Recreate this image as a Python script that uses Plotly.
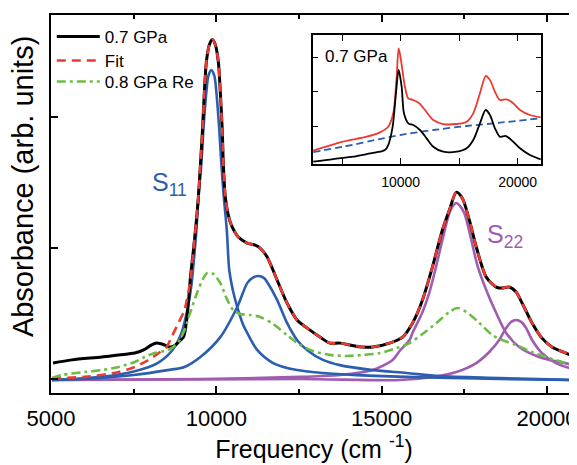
import plotly.graph_objects as go

# ---------------- main panel data (frequency in cm^-1, absorbance in arb. units) -------------
black_x = [5060, 5633, 6536, 7048, 7530, 7801, 8042, 8193, 8434, 8584, 8765, 8855, 9006, 9096, 9157, 9217,
           9307, 9398, 9458, 9518, 9578, 9638, 9699, 9789, 9879, 9970, 10060, 10120, 10181, 10211, 10271,
           10361, 10452, 10663, 10934, 11175, 11325, 11536, 11837, 12138, 12440, 12741, 13132, 13434, 13735,
           14036, 14428, 14729, 15241, 15632, 15934, 16235, 16536, 16837, 17048, 17259, 17440, 17650, 17861,
           18162, 18464, 18644, 18855, 19066, 19247, 19548, 19849, 20150, 20572, 20873]
black_y = [6.1, 7.3, 8.4, 9.2, 9.9, 11.1, 13.0, 13.7, 13.0, 12.2, 13.0, 14.1, 16.0, 21.8, 29.4, 38.9,
           49.2, 60.7, 69.5, 81.7, 94.3, 109.6, 121.1, 127.6, 129.6, 127.6, 121.1, 109.6, 94.3, 82.4, 69.5,
           62.6, 58.8, 54.2, 51.9, 51.1, 50.0, 46.6, 37.8, 29.0, 22.5, 19.5, 16.0, 13.7, 13.7,
           13.0, 12.2, 12.2, 13.7, 16.0, 21.4, 30.2, 42.8, 56.9, 64.5, 71.3, 69.0, 60.7, 50.4,
           38.9, 35.1, 34.7, 35.1, 33.2, 29.0, 21.4, 15.6, 12.2, 9.9, 8.4]

fit_x = [5030, 6024, 7048, 7530, 7952, 8253, 8494, 8645, 8855, 9036, 9126, 9217] + black_x[16:]
fit_y = [0.4, 0.8, 2.7, 4.6, 7.3, 9.9, 12.2, 16.0, 21.4, 26.3, 31.3, 37.8] + black_y[16:]

re_x = [5030, 5331, 6024, 6536, 7048, 7530, 7831, 8133, 8434, 8645, 8855, 9036, 9217, 9428, 9608, 9729,
        9910, 10120, 10331, 10512, 10723, 11024, 11325, 11717, 12138, 12530, 12922, 13434, 13946, 14428,
        14940, 15452, 15843, 16235, 16657, 17048, 17289, 17560, 17952, 18343, 18644, 19066, 19548, 20060,
        20572, 20873]
re_y = [0.4, 1.5, 2.7, 3.4, 4.6, 6.5, 8.4, 9.9, 10.7, 11.8, 14.1, 18.7, 25.6, 33.2, 38.5, 40.5,
        40.1, 36.6, 30.2, 26.3, 24.8, 24.4, 23.7, 21.0, 16.8, 13.0, 10.7, 9.2, 8.8, 9.2,
        9.9, 11.8, 13.7, 17.2, 21.4, 25.6, 27.1, 25.6, 21.4, 16.8, 14.9, 13.0, 10.3, 8.0,
        6.1, 4.6]

s11a_x = [5030, 6506, 7560, 8223, 8675, 8946, 9127, 9247, 9307, 9398, 9458, 9548, 9608, 9699, 9759, 9849,
          9940, 10000, 10090, 10150, 10226, 10316, 10391, 10512, 10632, 10813, 10934, 11235, 11717, 12440,
          13223, 14247, 15752, 17048, 18554, 20873]
s11a_y = [-0.4, 0.8, 3.1, 6.1, 11.1, 17.6, 26.7, 35.9, 43.5, 56.9, 69.5, 82.4, 95.0, 109.6, 115.7, 117.9,
          115.7, 109.6, 95.0, 82.4, 69.5, 56.9, 41.6, 33.2, 27.5, 20.6, 17.6, 11.1, 6.1, 3.4,
          2.3, 1.5, 0.8, 0.4, 0.0, -0.4]

s11b_x = [5030, 6506, 7500, 8524, 9036, 9518, 10120, 10632, 10934, 11084, 11265, 11446, 11536, 11837,
          12138, 12440, 12741, 13223, 13735, 14729, 15752, 16747, 18554, 20873]
s11b_y = [-0.4, 0.4, 1.5, 3.4, 4.6, 8.4, 16.0, 27.5, 36.6, 38.5, 39.3, 38.5, 37.0, 30.2,
          21.4, 14.9, 11.1, 7.3, 5.3, 3.4, 2.3, 1.1, 0.4, -0.4]

s22a_x = [5030, 9518, 12530, 13735, 14729, 15331, 15542, 15843, 15933, 16235, 16446, 16657, 16837, 17048,
          17168, 17259, 17349, 17500, 17711, 17892, 18162, 18464, 18765, 19156, 19759, 20361, 20873]
s22a_y = [-0.4, 0.0, 0.8, 1.5, 3.4, 7.3, 10.7, 14.9, 17.6, 25.6, 33.2, 43.5, 53.1, 63.3,
          66.4, 67.2, 66.4, 63.3, 53.1, 43.5, 34.0, 25.2, 17.6, 12.2, 8.4, 6.5, 5.3]

s22b_x = [5030, 12530, 15542, 16536, 17259, 17861, 18253, 18554, 18765, 18915, 19066, 19217, 19367,
          19548, 19849, 20271, 20873]
s22b_y = [-0.4, 0.0, -0.4, 0.8, 2.7, 6.1, 10.3, 14.9, 19.5, 21.8, 22.5, 21.8, 19.5,
          14.9, 9.9, 6.1, 3.4]

# ---------------- inset data ----------------
in_red_x = [2526, 5065, 7091, 8229, 8937, 9365, 9656, 9827, 10024, 10366, 10648, 11076, 11589, 12076,
            12786, 13641, 14787, 15642, 16206, 16779, 17266, 17634, 18061, 18489, 19062, 19626, 20199,
            21054, 21969]
in_red_y = [0.284, 0.545, 0.690, 0.817, 0.980, 1.368, 2.429, 3.252, 2.913, 2.139, 1.803, 1.754, 1.658,
            1.464, 1.174, 1.058, 1.058, 1.125, 1.368, 1.948, 2.449, 2.333, 1.994, 1.754, 1.774, 1.658,
            1.464, 1.319, 1.252]
in_blk_x = [2526, 4236, 5946, 7091, 8229, 8656, 8938, 9314, 9597, 9827, 10084, 10281, 10648, 11076,
            11649, 12221, 12786, 13641, 14787, 15642, 16206, 16779, 17266, 17634, 18061, 18489, 19002,
            19626, 20199, 21054, 21969]
in_blk_y = [-0.035, 0.043, 0.110, 0.188, 0.255, 0.304, 0.449, 0.980, 1.948, 2.623, 2.139, 1.368, 1.078,
            1.029, 0.884, 0.643, 0.400, 0.255, 0.255, 0.354, 0.594, 1.078, 1.464, 1.319, 0.933, 0.690,
            0.710, 0.545, 0.354, 0.159, 0.035]
in_bg_x = [2526, 5091, 8511, 9939, 12786, 15642, 18489, 21969]
in_bg_y = [0.246, 0.400, 0.643, 0.739, 0.884, 1.000, 1.096, 1.223]

main_yticks = [0, 50, 100]
inset_xticks = [10000, 20000]
inset_xminor = [5000, 15000]
inset_yticks = [1, 2, 3]

legend_names = ["0.7 GPa", "Fit", "0.8 GPa Re"]

BLACK = "#000000"
RED = "#ec3a30"
GREEN = "#6cbd45"
BLUE = "#2b5eae"
PURPLE = "#a05cb0"
FONT = "Liberation Sans, Arial, sans-serif"

fig = go.Figure()
sm = 0.8
for xs, ys in [(s22a_x, s22a_y), (s22b_x, s22b_y)]:
    fig.add_trace(go.Scatter(x=xs, y=ys, mode="lines", line=dict(color=PURPLE, width=2.6, shape="spline", smoothing=sm),
                             showlegend=False, hoverinfo="skip"))
for xs, ys in [(s11a_x, s11a_y), (s11b_x, s11b_y)]:
    fig.add_trace(go.Scatter(x=xs, y=ys, mode="lines", line=dict(color=BLUE, width=2.6, shape="spline", smoothing=sm),
                             showlegend=False, hoverinfo="skip"))
fig.add_trace(go.Scatter(x=black_x, y=black_y, mode="lines", name=legend_names[0], legend="legend",
                         line=dict(color=BLACK, width=3, shape="spline", smoothing=sm)))
fig.add_trace(go.Scatter(x=fit_x, y=fit_y, mode="lines", name=legend_names[1], legend="legend2",
                         line=dict(color=RED, width=2.6, dash="9px,6px", shape="spline", smoothing=sm)))
fig.add_trace(go.Scatter(x=re_x, y=re_y, mode="lines", name=legend_names[2], legend="legend3",
                         line=dict(color=GREEN, width=2.6, dash="9px,4px,3px,4px", shape="spline", smoothing=sm)))

# right-side mirrored y ticks
fig.add_trace(go.Scatter(x=[], y=[], yaxis="y3", showlegend=False, hoverinfo="skip"))

# inset
fig.add_trace(go.Scatter(x=in_bg_x, y=in_bg_y, xaxis="x2", yaxis="y2", mode="lines", showlegend=False,
                         line=dict(color=BLUE, width=1.8, dash="7px,4px", shape="spline", smoothing=0.6)))
fig.add_trace(go.Scatter(x=in_red_x, y=in_red_y, xaxis="x2", yaxis="y2", mode="lines", showlegend=False,
                         line=dict(color=RED, width=1.8, shape="spline", smoothing=0.8)))
fig.add_trace(go.Scatter(x=in_blk_x, y=in_blk_y, xaxis="x2", yaxis="y2", mode="lines", showlegend=False,
                         line=dict(color=BLACK, width=1.8, shape="spline", smoothing=0.8)))

yr = [-5.34, 138.94]
leg_common = dict(x=0.0015, xanchor="left", yanchor="middle", bgcolor="rgba(0,0,0,0)", borderwidth=0,
                  font=dict(size=17), itemwidth=43)
fig.update_layout(
    width=569, height=457,
    margin=dict(l=43, r=0, t=7, b=72),
    plot_bgcolor="white", paper_bgcolor="white",
    font=dict(family=FONT, color="black"),
    xaxis=dict(range=[5000, 20907], domain=[0, 1], tickmode="linear", tick0=5000, dtick=5000, tickformat="d",
               ticks="inside", ticklen=7, tickwidth=1.5, tickcolor="black", ticklabeloverflow="allow",
               minor=dict(dtick=2500, tick0=5000, ticks="inside", ticklen=4, tickwidth=1.5, tickcolor="black"),
               showline=True, linewidth=2, linecolor="black", mirror="ticks", showgrid=False, zeroline=False,
               tickfont=dict(size=22), ticklabelstandoff=5, automargin=False,
               title=dict(text="Frequency (cm <sup>-1</sup>)", font=dict(size=25), standoff=5)),
    yaxis=dict(range=yr, domain=[0, 1], tickvals=main_yticks, showticklabels=False,
               ticks="inside", ticklen=7, tickwidth=1.5, tickcolor="black", automargin=False,
               showline=True, linewidth=2, linecolor="black", mirror=False, showgrid=False, zeroline=False),
    yaxis3=dict(range=yr, overlaying="y", side="right", anchor="x", tickvals=main_yticks, showticklabels=False,
                ticks="inside", ticklen=7, tickwidth=1.5, tickcolor="black", showline=False, showgrid=False,
                zeroline=False, automargin=False),
    xaxis2=dict(domain=[0.498, 0.9316], anchor="y2", range=[2500, 22000], tickvals=inset_xticks,
                tickformat="d", ticks="inside", ticklen=6, tickwidth=1.2, tickcolor="black",
                minor=dict(tickvals=inset_xminor, ticks="inside", ticklen=6, tickwidth=1.2, tickcolor="black"),
                showline=True, linewidth=1.5, linecolor="black", mirror="ticks", showgrid=False, zeroline=False,
                tickfont=dict(size=14), ticklabelstandoff=4),
    yaxis2=dict(domain=[0.6058, 0.9471], anchor="x2", range=[-0.101, 3.638], tickvals=inset_yticks,
                showticklabels=False, ticks="inside", ticklen=5, tickwidth=1.2, tickcolor="black",
                showline=True, linewidth=1.5, linecolor="black", mirror="ticks", showgrid=False, zeroline=False),
    legend=dict(y=0.9418, **leg_common),
    legend2=dict(y=0.8783, **leg_common),
    legend3=dict(y=0.8228, **leg_common),
    showlegend=True,
)

fig.add_annotation(text="Absorbance (arb. units)", xref="paper", yref="paper", x=-0.053, y=0.545,
                   textangle=-90, showarrow=False, font=dict(size=29), xanchor="center", yanchor="middle")
fig.add_annotation(text="S<sub>11</sub>", x=7994, y=74.5, xref="x", yref="y", showarrow=False,
                   xanchor="left", yanchor="middle", font=dict(size=25, color=BLUE))
fig.add_annotation(text="S<sub>22</sub>", x=18125, y=54.5, xref="x", yref="y", showarrow=False,
                   xanchor="left", yanchor="middle", font=dict(size=25, color=PURPLE))
fig.add_annotation(text="0.7 GPa", xref="x2 domain", yref="y2 domain", x=0.044, y=0.837, showarrow=False,
                   xanchor="left", yanchor="middle", font=dict(size=17))

fig.write_html("out.html")
